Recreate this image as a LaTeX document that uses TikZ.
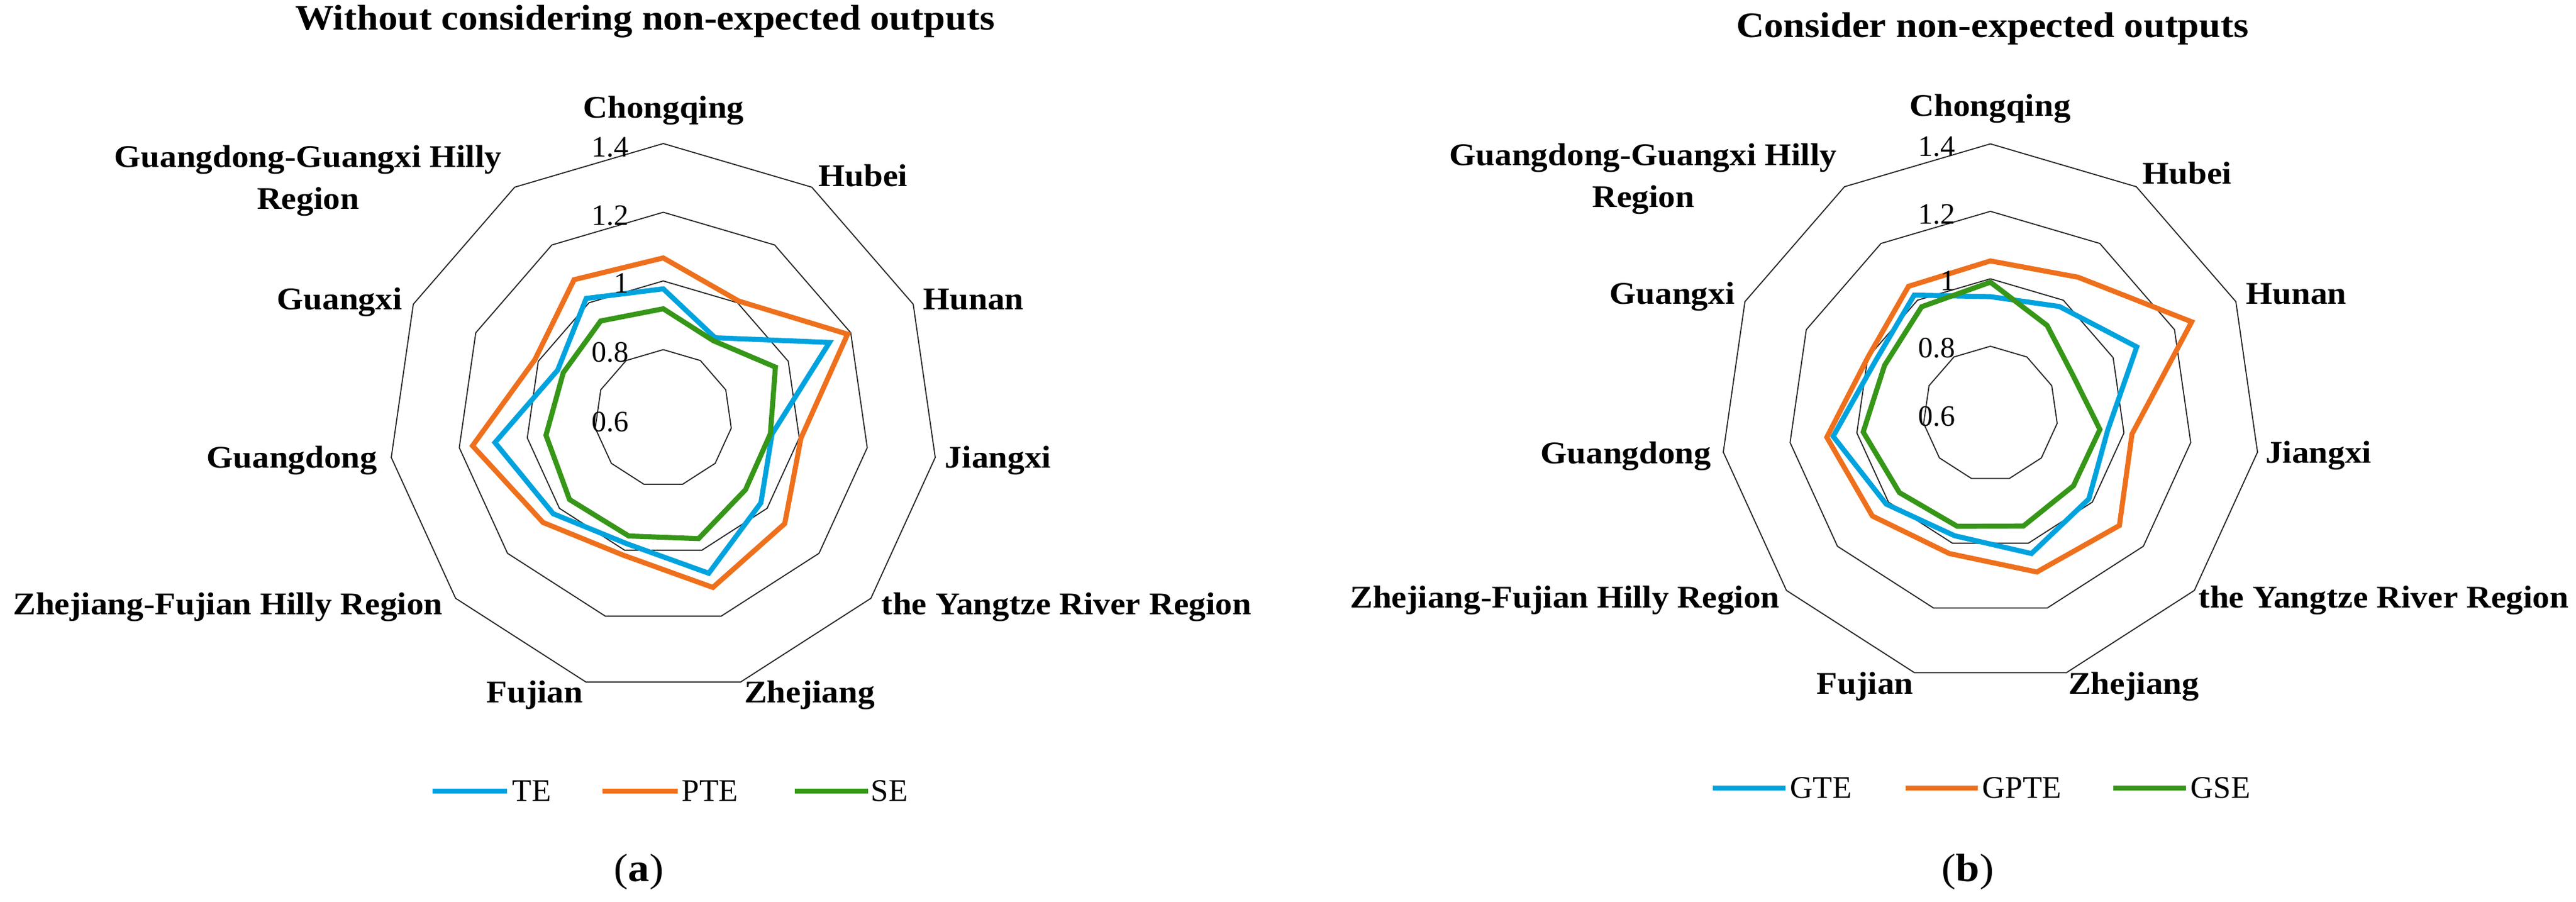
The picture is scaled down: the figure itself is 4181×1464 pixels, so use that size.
\documentclass[tikz,border=0pt]{standalone}
\usepackage{fontspec}
\setmainfont{Liberation Serif}[FakeStretch=1.08]
\newfontfamily\numfont{Liberation Serif}
\definecolor{teblue}{RGB}{0,163,222}
\definecolor{pteorange}{RGB}{238,112,28}
\definecolor{segreen}{RGB}{54,150,24}
\newcommand{\radarring}[5]{%
  \foreach \k in {0,...,10}{
    \coordinate (#1\k) at ({#2+(#5-0.6)*#4*cos(\k*360/11-90)},{#3+(#5-0.6)*#4*sin(\k*360/11-90)});
  }
  \draw[ring] (#10)--(#11)--(#12)--(#13)--(#14)--(#15)--(#16)--(#17)--(#18)--(#19)--(#110)--cycle;
}
\newcommand{\radarpoly}[6]{%
  \foreach \v [count=\k from 0] in {#6}{
    \coordinate (#1\k) at ({#2+(\v-0.6)*#4*cos(\k*360/11-90)},{#3+(\v-0.6)*#4*sin(\k*360/11-90)});
  }
  \draw[#5] (#10)--(#11)--(#12)--(#13)--(#14)--(#15)--(#16)--(#17)--(#18)--(#19)--(#110)--cycle;
}
\begin{document}
\begin{tikzpicture}[x=0.25pt,y=-0.25pt,
  ring/.style={draw=black!85,line width=0.45pt},
  series/.style={line width=2.05pt,line join=miter,miter limit=4},
  catlabel/.style={font=\fontsize{12.8}{17}\selectfont\bfseries,inner sep=0pt,text height=8.5pt,text depth=3.2pt,yshift=-1.25pt},
  twoline/.style={font=\fontsize{12.8}{17}\selectfont\bfseries,inner sep=0pt,align=center,yshift=-1.25pt},
  titlelabel/.style={font=\fontsize{14.5}{17}\selectfont\bfseries,inner sep=0pt,text height=9.6pt,text depth=3.6pt},
  ticklabel/.style={font=\numfont\fontsize{12}{14}\selectfont,inner sep=0pt,anchor=east,text height=8.1pt,text depth=0pt},
  legendtext/.style={font=\numfont\fontsize{12.8}{15}\selectfont,inner sep=0pt,anchor=west,text height=8.5pt,text depth=0pt},
  legendline/.style={line width=2pt},
  caption/.style={font=\fontsize{16}{20}\selectfont,inner sep=0pt}]
\fill[white] (0,0) rectangle (4181,1464);
\useasboundingbox (0,0) rectangle (4181,1464);

% ---------------- left chart ----------------
\radarring{rLa}{1076.5}{679}{557.5}{0.8}
\radarring{rLb}{1076.5}{679}{557.5}{1.0}
\radarring{rLc}{1076.5}{679}{557.5}{1.2}
\radarring{rLd}{1076.5}{679}{557.5}{1.4}
\radarpoly{TE}{1076.5}{679}{557.5}{series,teblue}{0.977,0.879,1.132,0.92,0.976,1.070,0.98,1.024,1.095,0.938,1.015}
\radarpoly{PTE}{1076.5}{679}{557.5}{series,pteorange}{1.067,1.006,1.190,1.005,1.068,1.113,1.015,1.063,1.161,1.011,1.080}
\radarpoly{SE}{1076.5}{679}{557.5}{series,segreen}{0.919,0.869,0.959,0.915,0.917,0.965,0.957,0.961,0.945,0.92,0.937}

\node[ticklabel] (tickLa) at (1021,238) {1.4};
\node[ticklabel] (tickLb) at (1021,349.5) {1.2};
\node[ticklabel] (tickLc) at (1021,459) {1};
\node[ticklabel] (tickLd) at (1021,571.5) {0.8};
\node[ticklabel] (tickLe) at (1021,684) {0.6};

\node[titlelabel] (titleL) at (1047,37) {Without considering non-expected outputs};
\node[catlabel] (cqL) at (1077,175.5) {Chongqing};
\node[catlabel] (hbL) at (1401,287) {Hubei};
\node[catlabel] (hnL) at (1580,487) {Hunan};
\node[catlabel] (jxL) at (1620,744) {Jiangxi};
\node[catlabel] (yzL) at (1731,982) {the Yangtze River Region};
\node[catlabel] (zjL) at (1314,1125) {Zhejiang};
\node[catlabel] (fjL) at (868,1125) {Fujian};
\node[catlabel] (zfL) at (370,982) {Zhejiang-Fujian Hilly Region};
\node[catlabel] (gdL) at (474,744) {Guangdong};
\node[catlabel] (gxL) at (551,487) {Guangxi};
\node[twoline] (ggL) at (500,288) {Guangdong-Guangxi Hilly\\Region};

\coordinate (lgLa1) at (702,1284); \coordinate (lgLa2) at (823,1284);
\coordinate (lgLb1) at (978,1284); \coordinate (lgLb2) at (1100,1284);
\coordinate (lgLc1) at (1290,1284); \coordinate (lgLc2) at (1409,1284);
\draw[legendline,teblue] (lgLa1) -- (lgLa2);
\draw[legendline,pteorange] (lgLb1) -- (lgLb2);
\draw[legendline,segreen] (lgLc1) -- (lgLc2);
\node[legendtext] (lgLaT) at (831,1283) {TE};
\node[legendtext] (lgLbT) at (1106,1283) {PTE};
\node[legendtext] (lgLcT) at (1413,1283) {SE};
\node[caption] (capL) at (1037,1415) {(\textbf{a})};

% ---------------- right chart ----------------
\radarring{rRa}{3230.5}{671.5}{547.5}{0.8}
\radarring{rRb}{3230.5}{671.5}{547.5}{1.0}
\radarring{rRc}{3230.5}{671.5}{547.5}{1.2}
\radarring{rRd}{3230.5}{671.5}{547.5}{1.4}
\radarpoly{GTE}{3230.5}{671.5}{547.5}{series,teblue}{0.947,0.978,1.077,0.951,0.986,1.032,0.977,1.009,1.071,0.975,1.018}
\radarpoly{GPTE}{3230.5}{671.5}{547.5}{series,pteorange}{1.053,1.081,1.256,1.024,1.106,1.089,1.032,1.063,1.090,1.0,1.049}
\radarpoly{GSE}{3230.5}{671.5}{547.5}{series,segreen}{0.99,0.911,0.87,0.928,0.926,0.947,0.948,0.957,0.981,0.945,0.977}

\node[ticklabel] (tickRa) at (3174,237) {1.4};
\node[ticklabel] (tickRb) at (3174,347) {1.2};
\node[ticklabel] (tickRc) at (3174,455) {1};
\node[ticklabel] (tickRd) at (3174,564.5) {0.8};
\node[ticklabel] (tickRe) at (3174,675) {0.6};

\node[titlelabel] (titleR) at (3234,49) {Consider non-expected outputs};
\node[catlabel] (cqR) at (3230,173) {Chongqing};
\node[catlabel] (hbR) at (3550,283) {Hubei};
\node[catlabel] (hnR) at (3727,478) {Hunan};
\node[catlabel] (jxR) at (3763,736) {Jiangxi};
\node[catlabel] (yzR) at (3869,971) {the Yangtze River Region};
\node[catlabel] (zjR) at (3463,1111) {Zhejiang};
\node[catlabel] (fjR) at (3027,1111) {Fujian};
\node[catlabel] (zfR) at (2540,971) {Zhejiang-Fujian Hilly Region};
\node[catlabel] (gdR) at (2639,737) {Guangdong};
\node[catlabel] (gxR) at (2714,478) {Guangxi};
\node[twoline] (ggR) at (2667,285) {Guangdong-Guangxi Hilly\\Region};

\coordinate (lgRa1) at (2780,1279); \coordinate (lgRa2) at (2898,1279);
\coordinate (lgRb1) at (3093,1279); \coordinate (lgRb2) at (3210,1279);
\coordinate (lgRc1) at (3430,1279); \coordinate (lgRc2) at (3548,1279);
\draw[legendline,teblue] (lgRa1) -- (lgRa2);
\draw[legendline,pteorange] (lgRb1) -- (lgRb2);
\draw[legendline,segreen] (lgRc1) -- (lgRc2);
\node[legendtext] (lgRaT) at (2905,1278) {GTE};
\node[legendtext] (lgRbT) at (3217,1278) {GPTE};
\node[legendtext] (lgRcT) at (3555,1278) {GSE};
\node[caption] (capR) at (3194,1415) {(\textbf{b})};
\end{tikzpicture}
\end{document}
